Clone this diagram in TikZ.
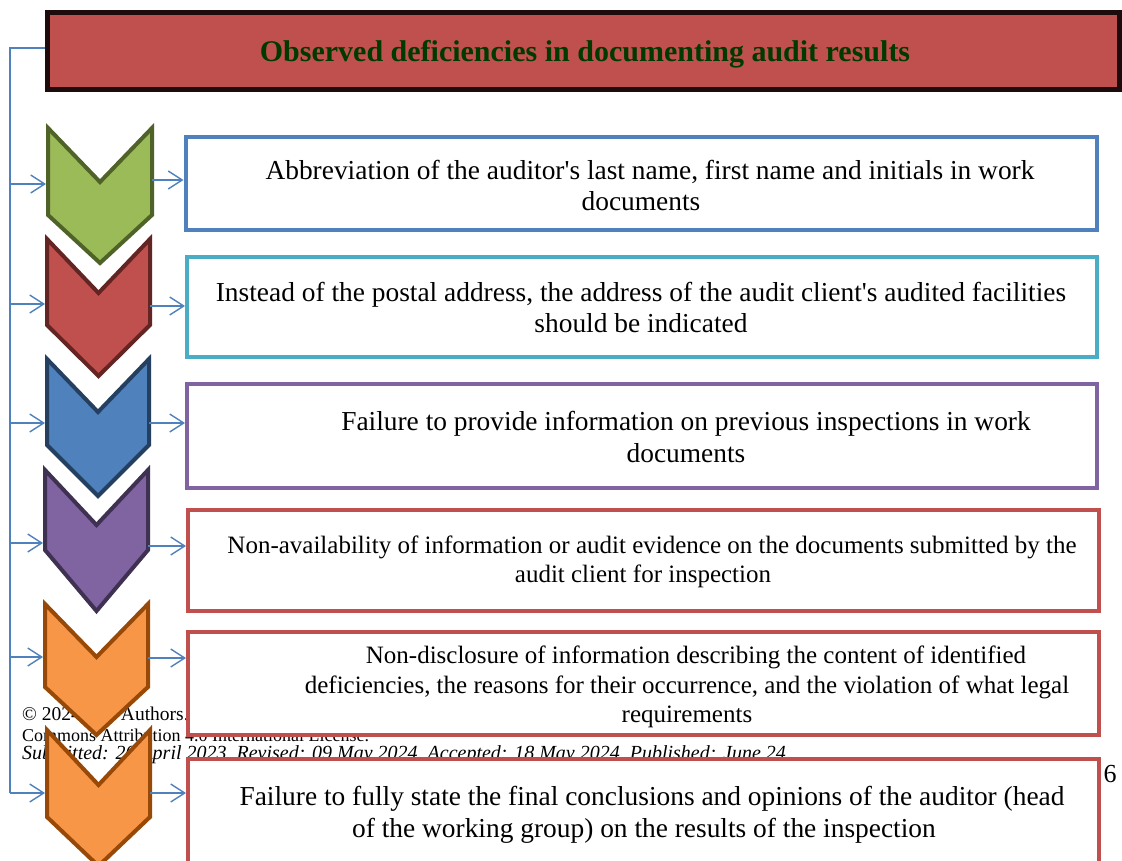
\documentclass[tikz,border=0pt]{standalone}
\usepackage{fontspec}
\setmainfont{Liberation Serif}
\usetikzlibrary{arrows.meta}
\definecolor{aBlue}{HTML}{4F81BD}
\definecolor{aCyan}{HTML}{4BACC6}
\definecolor{aPurple}{HTML}{8064A2}
\definecolor{aRed}{HTML}{C0504D}
\definecolor{aGreen}{HTML}{9BBB59}
\definecolor{aOrange}{HTML}{F79646}
\definecolor{dGreen}{HTML}{4F6228}
\definecolor{dRed}{HTML}{632523}
\definecolor{dBlue}{HTML}{243F60}
\definecolor{dPurple}{HTML}{3F3151}
\definecolor{dOrange}{HTML}{984807}
\definecolor{titleBorder}{HTML}{1E0C0C}
\definecolor{titleText}{HTML}{003A00}
\newcommand\chevronpath[7]{% left, right, top, notch, sidebottom, point, style
  \draw[#7] (#1,#3) -- ({(#1+#2)/2},#4) -- (#2,#3) -- (#2,#5) -- ({(#1+#2)/2},#6) -- (#1,#5) -- cycle;}
\newcommand\sq{\textquotesingle}
\begin{document}
\begin{tikzpicture}[x=1pt,y=-1pt,
  bgtext/.style={font=\fontsize{19.5}{21}\selectfont, inner sep=0pt, anchor=west},
  titlebox/.style={draw=titleBorder, fill=aRed, line width=5pt, inner sep=0pt},
  itembox/.style={fill=white, line width=4pt, inner sep=0pt},
  itemtext/.style={font=\fontsize{27.4}{31.5}\selectfont, align=center, inner sep=0pt},
  itemsmall/.style={font=\fontsize{25}{29.5}\selectfont, align=center, inner sep=0pt},
  chev/.style={line width=4pt, line join=miter},
  rail/.style={draw=aBlue, line width=1.4pt},
  arr/.style={draw=aBlue, line width=1.4pt, -{Straight Barb[length=14pt,width=18pt]}}]
\useasboundingbox (0,0) rectangle (1122,861);
\fill[white] (0,0) rectangle (1122,861);

% page residue behind the diagram
\node[bgtext] (pg1) at (22,714) {© 2024 The Authors.};
\node[bgtext, font=\fontsize{18}{20}\selectfont] (pg2) at (22,735) {Commons Attribution 4.0 International License.};
\node[bgtext, font=\fontsize{20}{22}\selectfont\itshape] (pg3) at (22,755)
  {Submitted: 20 April 2023, Revised: 09 May 2024, Accepted: 18 May 2024, Published: June 24};
\node[font=\fontsize{26}{30}\selectfont, inner sep=0pt] (pgn) at (1110,774) {6};

% title
\node[titlebox, minimum width=1072pt, minimum height=77pt] (title) at (583.5,51) {};
\node[font=\fontsize{30}{34}\selectfont\bfseries, text=titleText, inner sep=0pt] (titletext) at (585,54)
  {Observed deficiencies in documenting audit results};

% item boxes
\node[itembox, draw=aBlue,   minimum width=911.5pt, minimum height=93pt]  (b1) at (641.25,184) {};
\node[itembox, draw=aCyan,   minimum width=910pt,   minimum height=100pt] (b2) at (642,307) {};
\node[itembox, draw=aPurple, minimum width=910pt,   minimum height=104pt] (b3) at (642,436) {};
\node[itembox, draw=aRed,    minimum width=911pt,   minimum height=101pt] (b4) at (643.5,560.5) {};
\node[itembox, draw=aRed,    minimum width=911pt,   minimum height=103pt] (b5) at (643.5,683.5) {};
\node[itembox, draw=aRed,    minimum width=911pt,   minimum height=130pt] (b6) at (643.5,824) {};

\node[itemtext] (t1) at (641,185.5) {\hspace*{18pt}Abbreviation of the auditor\sq s last name, first name and initials in work\\documents};
\node[itemtext] (t2) at (641,307.5) {Instead of the postal address, the address of the audit client\sq s audited facilities\\should be indicated};
\node[itemtext] (t3) at (686,437) {Failure to provide information on previous inspections in work\\documents};
\node[itemsmall] (t4) at (643,562) {\hspace*{18pt}Non-availability of information or audit evidence on the documents submitted by the\\audit client for inspection};
\node[itemsmall] (t5) at (687,687) {\hspace*{18pt}Non-disclosure of information describing the content of identified\\deficiencies, the reasons for their occurrence, and the violation of what legal\\requirements};
\node[itemtext] (t6) at (644,815) {\hspace*{16pt}Failure to fully state the final conclusions and opinions of the auditor (head\\of the working group) on the results of the inspection};

% chevrons
\chevronpath{48}{152}{128}{182}{215}{263}{chev, fill=aGreen, draw=dGreen}
\chevronpath{47}{150}{239}{293}{325}{376}{chev, fill=aRed, draw=dRed}
\chevronpath{47}{149}{359}{412}{445}{496}{chev, fill=aBlue, draw=dBlue}
\chevronpath{45}{148}{470}{525}{550}{611}{chev, fill=aPurple, draw=dPurple}
\chevronpath{45}{148}{604}{657}{687}{735}{chev, fill=aOrange, draw=dOrange}
\chevronpath{47}{150}{730}{785}{817}{866}{chev, fill=aOrange, draw=dOrange}

% connector end points on the chevrons and the rail
\coordinate (rtop) at (10,48);
\coordinate (r1) at (10,184);
\coordinate (r2) at (10,304);
\coordinate (r3) at (10,423);
\coordinate (r4) at (10,543);
\coordinate (r5) at (10,657);
\coordinate (r6) at (10,793);
\coordinate (c1i) at (46,184);
\coordinate (c2i) at (45,304);
\coordinate (c3i) at (45,423);
\coordinate (c4i) at (43,543);
\coordinate (c5i) at (43,657);
\coordinate (c6i) at (45,793);
\coordinate (c1o) at (152,180);
\coordinate (c2o) at (150,306);
\coordinate (c3o) at (149,423);
\coordinate (c4o) at (148,546);
\coordinate (c5o) at (148,658);
\coordinate (c6o) at (150,793);

% rail and arrows
\draw[rail] (rtop -| title.west) -- (rtop) -- (r6);
\foreach \i in {1,...,6} {
  \draw[arr] (r\i) -- (c\i i);
  \draw[arr] (c\i o) -- (c\i o -| b\i.west);
}
\end{tikzpicture}
\end{document}
